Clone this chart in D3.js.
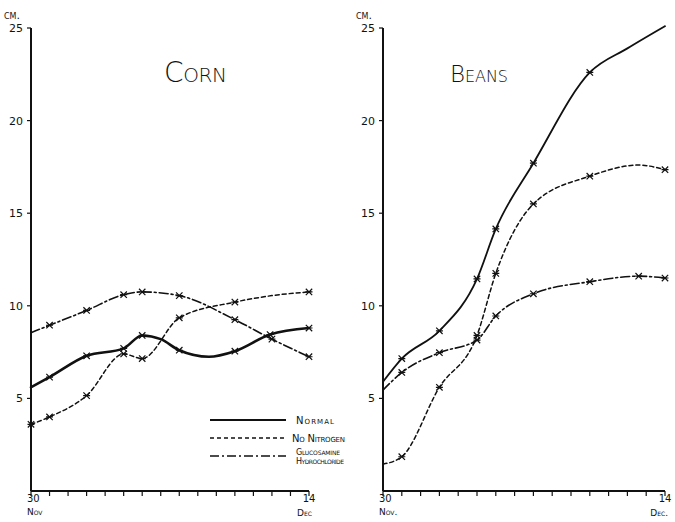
<!DOCTYPE html>
<html>
<head>
<meta charset="utf-8">
<script src="https://cdn.jsdelivr.net/npm/d3@7"></script>
<style>
  body { margin: 0; background: #fff; }
  svg { display: block; }
  text { font-family: "DejaVu Sans", sans-serif; fill: #111; }
</style>
</head>
<body>
<svg width="675" height="522"></svg>
<script>
/* Data: height in cm, days counted from 30 Nov */
const yTicks = [5, 10, 15, 20, 25];
const dayTicks = d3.range(0, 16);
const seriesNames = ['Normal', 'No Nitrogen', 'Glucosamine'];

const cornNormalDays = [0, 1, 3, 5, 6, 7, 8, 9.6, 11, 12.9, 15];
const cornNormalCm = [5.6, 6.15, 7.3, 7.7, 8.4, 8.2, 7.6, 7.25, 7.55, 8.45, 8.8];
const cornNormalMarked = [0, 1, 1, 1, 1, 0, 1, 0, 1, 1, 1];

const cornNoNDays = [0, 1, 3, 5, 6, 8, 11, 13, 15];
const cornNoNCm = [3.6, 4.0, 5.15, 7.4, 7.15, 9.35, 10.2, 10.55, 10.75];
const cornNoNMarked = [1, 1, 1, 1, 1, 1, 1, 0, 1];

const cornGlucDays = [0, 1, 3, 5, 6, 8, 11, 13, 15];
const cornGlucCm = [8.55, 8.95, 9.75, 10.6, 10.75, 10.55, 9.25, 8.2, 7.25];
const cornGlucMarked = [0, 1, 1, 1, 1, 1, 1, 1, 1];

const beansNormalDays = [0, 1, 3, 5, 6, 8, 11, 13, 15];
const beansNormalCm = [5.9, 7.15, 8.65, 11.45, 14.15, 17.7, 22.6, 23.9, 25.1];
const beansNormalMarked = [0, 1, 1, 1, 1, 1, 1, 0, 0];

const beansNoNDays = [0, 1, 3, 5, 6, 8, 11, 13.6, 15];
const beansNoNCm = [1.45, 1.85, 5.6, 8.4, 11.75, 15.5, 17.0, 17.6, 17.35];
const beansNoNMarked = [0, 1, 1, 1, 1, 1, 1, 0, 1];

const beansGlucDays = [0, 1, 3, 5, 6, 8, 11, 13.6, 15];
const beansGlucCm = [5.45, 6.4, 7.47, 8.15, 9.45, 10.65, 11.3, 11.6, 11.5];
const beansGlucMarked = [0, 1, 1, 1, 1, 1, 1, 1, 1];

/* Line styles */
const styles = {
  'Normal': { dash: null, width: 2.4 },
  'No Nitrogen': { dash: '4,3', width: 1.5 },
  'Glucosamine': { dash: '9,3,2,3', width: 1.6 }
};

const svg = d3.select('svg');

const toPoints = (days, cm, marked) => days.map((d, i) => ({ day: d, cm: cm[i], marked: marked[i] }));

// little hand-drawn looking "x" marker
const markPath = 'M-3.2,-3.2L3.2,3.2M-3.2,3.2L3.2,-3.2M-3.5,0L3.5,0';

function drawPanel(p) {
  const x = d3.scaleLinear().domain([0, 15]).range([p.left, p.right]);
  const y = d3.scaleLinear().domain([0, 25]).range([491, 28]);
  const g = svg.append('g');

  // y axis
  g.append('line')
    .attr('x1', p.left).attr('x2', p.left)
    .attr('y1', y(25)).attr('y2', y(0))
    .attr('stroke', '#111').attr('stroke-width', 2);
  g.selectAll('.ytick').data(yTicks).enter().append('line')
    .attr('x1', p.left - 4).attr('x2', p.left)
    .attr('y1', d => y(d)).attr('y2', d => y(d))
    .attr('stroke', '#111').attr('stroke-width', 1.2);
  g.selectAll('.ylab').data(yTicks).enter().append('text')
    .attr('x', p.left - 8).attr('y', d => y(d) + 4)
    .attr('text-anchor', 'end')
    .style('font-size', '11px')
    .text(d => d);
  g.append('text')
    .attr('x', p.left - 27).attr('y', 19)
    .style('font-size', '11px')
    .style('font-variant', 'small-caps')
    .text('cm.');

  // x axis
  g.append('line')
    .attr('x1', p.left).attr('x2', p.right)
    .attr('y1', y(0)).attr('y2', y(0))
    .attr('stroke', '#111').attr('stroke-width', 2);
  g.selectAll('.xtick').data(dayTicks).enter().append('line')
    .attr('x1', d => x(d)).attr('x2', d => x(d))
    .attr('y1', y(0)).attr('y2', y(0) + 5)
    .attr('stroke', '#111').attr('stroke-width', 1.2);
  const xl = g.append('g').style('font-variant', 'small-caps');
  xl.append('text').attr('x', x(0) - 4).attr('y', 502).style('font-size', '10px').text('30');
  xl.append('text').attr('x', x(0) - 4).attr('y', 515).style('font-size', '9px').text(p.nov);
  xl.append('text').attr('x', x(15)).attr('y', 502).attr('text-anchor', 'middle').style('font-size', '10px').text('14');
  xl.append('text').attr('x', x(15) + 3).attr('y', 516).attr('text-anchor', 'end').style('font-size', '9px').text(p.dec);

  // title
  g.append('text')
    .attr('x', p.titleX).attr('y', 82)
    .attr('textLength', p.titleW)
    .style('font-size', p.titleSize + 'px')
    .style('font-variant', 'small-caps')
    .style('font-weight', '300')
    .text(p.title);

  const line = d3.line()
    .x(d => x(d.day))
    .y(d => y(d.cm))
    .curve(d3.curveMonotoneX);

  p.series.forEach(s => {
    const st = styles[s.name];
    g.append('path')
      .datum(s.points)
      .attr('d', line)
      .attr('fill', 'none')
      .attr('stroke', '#111')
      .attr('stroke-width', s.name === 'Normal' ? p.normalWidth : st.width)
      .attr('stroke-dasharray', st.dash)
      .attr('stroke-linecap', 'round');
    g.selectAll(null).data(s.points.filter(d => d.marked)).enter().append('path')
      .attr('d', markPath)
      .attr('transform', d => `translate(${x(d.day)},${y(d.cm)})`)
      .attr('fill', 'none')
      .attr('stroke', '#111')
      .attr('stroke-width', 1.2);
  });
}

drawPanel({
  left: 31, right: 309, title: 'Corn', titleX: 164, titleW: 63, titleSize: 28,
  nov: 'Nov', dec: 'Dec', normalWidth: 2.6,
  series: [
    { name: 'Normal', points: toPoints(cornNormalDays, cornNormalCm, cornNormalMarked) },
    { name: 'No Nitrogen', points: toPoints(cornNoNDays, cornNoNCm, cornNoNMarked) },
    { name: 'Glucosamine', points: toPoints(cornGlucDays, cornGlucCm, cornGlucMarked) }
  ]
});

drawPanel({
  left: 383, right: 665, title: 'Beans', titleX: 450, titleW: 58, titleSize: 23,
  nov: 'Nov.', dec: 'Dec.', normalWidth: 1.8,
  series: [
    { name: 'Normal', points: toPoints(beansNormalDays, beansNormalCm, beansNormalMarked) },
    { name: 'No Nitrogen', points: toPoints(beansNoNDays, beansNoNCm, beansNoNMarked) },
    { name: 'Glucosamine', points: toPoints(beansGlucDays, beansGlucCm, beansGlucMarked) }
  ]
});

/* Legend */
const legend = svg.append('g');
const legendY = [420, 438, 456];
seriesNames.forEach((name, i) => {
  const st = styles[name];
  legend.append('line')
    .attr('x1', 210).attr('x2', 286)
    .attr('y1', legendY[i]).attr('y2', legendY[i])
    .attr('stroke', '#111')
    .attr('stroke-width', name === 'Normal' ? 1.8 : 1.4)
    .attr('stroke-dasharray', st.dash);
});
legend.append('text').attr('x', 296).attr('y', 424).attr('textLength', 38)
  .style('font-size', '10px').style('font-variant', 'small-caps').text('Normal');
legend.append('text').attr('x', 292).attr('y', 442).attr('textLength', 53)
  .style('font-size', '10px').style('font-variant', 'small-caps').text('No Nitrogen');
legend.append('text').attr('x', 296).attr('y', 455).attr('textLength', 44)
  .style('font-size', '8px').style('font-variant', 'small-caps').text('Glucosamine');
legend.append('text').attr('x', 296).attr('y', 464).attr('textLength', 48)
  .style('font-size', '8px').style('font-variant', 'small-caps').text('Hydrochloride');
</script>
</body>
</html>
